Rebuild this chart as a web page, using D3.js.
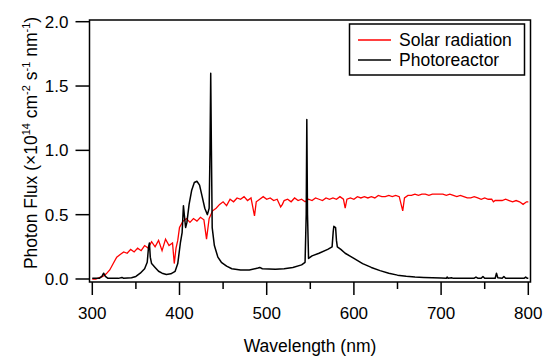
<!DOCTYPE html>
<html>
<head>
<meta charset="utf-8">
<script src="https://cdn.jsdelivr.net/npm/d3@7"></script>
<style>
  body { margin: 0; background: #fff; }
  text { font-family: "Liberation Sans", Arial, sans-serif; fill: #000; }
</style>
</head>
<body>
<div id="chart"></div>
<script>
// Solar radiation spectrum (nm, ×10^14 photons cm^-2 s^-1 nm^-1)
var solarWl = [300,304,308,312,316,320,324,328,332,336,340,344,348,352,356,360,364,368,372,376,380,384,388,392,394,396,398,400,404,408,412,416,420,424,428,431,434,438,442,446,450,454,458,462,466,470,474,478,482,486,488,492,496,500,504,508,512,516,518,520,524,528,532,536,540,544,548,552,556,560,564,568,572,576,580,584,588,590,592,596,600,604,608,612,616,620,624,628,632,636,640,644,648,652,656,658,662,666,670,674,678,682,686,690,694,698,702,706,710,714,718,722,726,730,734,738,742,746,750,754,758,760,762,766,770,774,778,782,786,790,794,798,800];
var solarVal = [0.00,0.00,0.01,0.02,0.04,0.07,0.12,0.17,0.19,0.21,0.20,0.23,0.21,0.24,0.22,0.26,0.24,0.29,0.25,0.30,0.22,0.31,0.26,0.28,0.12,0.24,0.30,0.40,0.45,0.47,0.44,0.47,0.45,0.48,0.46,0.31,0.47,0.53,0.55,0.58,0.60,0.57,0.62,0.60,0.63,0.62,0.64,0.61,0.63,0.49,0.60,0.62,0.64,0.62,0.63,0.61,0.62,0.56,0.58,0.61,0.62,0.60,0.63,0.61,0.62,0.60,0.62,0.61,0.63,0.62,0.61,0.63,0.62,0.63,0.62,0.64,0.62,0.55,0.62,0.63,0.62,0.64,0.63,0.64,0.63,0.64,0.63,0.65,0.64,0.64,0.65,0.64,0.65,0.64,0.53,0.63,0.65,0.65,0.66,0.65,0.66,0.66,0.65,0.66,0.66,0.66,0.66,0.65,0.66,0.65,0.64,0.65,0.64,0.63,0.63,0.64,0.63,0.62,0.63,0.62,0.62,0.60,0.61,0.61,0.61,0.62,0.61,0.60,0.61,0.60,0.58,0.60,0.60];

// Photoreactor lamp spectrum
var lampWl = [300,308,311,313,315,318,330,334,336,345,350,355,360,363,364.5,365.5,366.5,368,372,376,380,385,390,395,398,401,403,404.5,405.5,407,408.5,411,414,417,420,423,426,429,432,434,435,435.8,436.6,437.5,440,444,448,454,460,470,480,490,492,495,510,520,530,540,544,545.3,546,546.8,548,552,560,570,575,576.3,577,579,580,581,585,590,600,610,620,630,640,650,660,670,680,690,700,706,707,708,712,714,725,738,740,742,746,748,750,762,763.5,765,770,772,774,795,797,799,800];
var lampVal = [0.005,0.005,0.02,0.045,0.02,0.005,0.005,0.012,0.005,0.01,0.02,0.045,0.08,0.13,0.25,0.28,0.17,0.12,0.09,0.06,0.045,0.035,0.04,0.06,0.12,0.28,0.36,0.57,0.50,0.40,0.44,0.58,0.69,0.75,0.76,0.73,0.64,0.55,0.50,0.55,1.0,1.60,1.0,0.40,0.26,0.17,0.13,0.10,0.08,0.07,0.07,0.085,0.09,0.08,0.075,0.08,0.09,0.11,0.13,0.5,1.24,0.5,0.16,0.18,0.20,0.23,0.25,0.37,0.41,0.40,0.30,0.25,0.23,0.20,0.16,0.12,0.09,0.065,0.045,0.03,0.022,0.016,0.012,0.009,0.007,0.006,0.015,0.006,0.01,0.005,0.005,0.006,0.015,0.006,0.006,0.02,0.006,0.006,0.045,0.01,0.006,0.02,0.006,0.005,0.015,0.005,0.005];

var xTicks = [300,400,500,600,700,800];
var xMinor = [350,450,550,650,750];
var yTicks = [0.0,0.5,1.0,1.5,2.0];
var seriesNames = ["Solar radiation","Photoreactor"];
var seriesColors = ["#ff0000","#000000"];

var width = 547, height = 358;
var svg = d3.select("#chart").append("svg")
    .attr("width", width)
    .attr("height", height);

// scales (frame is slightly larger than the data range)
var x = d3.scaleLinear().domain([300, 800]).range([92.3, 528.3]);
var y = d3.scaleLinear().domain([0, 2]).range([279, 21.7]);
var frame = {left: 89.5, right: 530.5, top: 20, bottom: 282};

// frame
svg.append("rect")
    .attr("x", frame.left).attr("y", frame.top)
    .attr("width", frame.right - frame.left)
    .attr("height", frame.bottom - frame.top)
    .attr("fill", "none").attr("stroke", "#000").attr("stroke-width", 1.5);

// x axis
var xAxis = svg.append("g").attr("transform", "translate(0," + frame.bottom + ")");
xAxis.selectAll("line.major").data(xTicks).enter().append("line")
    .attr("x1", x).attr("x2", x).attr("y1", 0).attr("y2", 13)
    .attr("stroke", "#000").attr("stroke-width", 1.5);
xAxis.selectAll("line.minor").data(xMinor).enter().append("line")
    .attr("x1", x).attr("x2", x).attr("y1", 0).attr("y2", 7)
    .attr("stroke", "#000").attr("stroke-width", 1.5);
xAxis.selectAll("text").data(xTicks).enter().append("text")
    .attr("x", x).attr("y", 37)
    .attr("text-anchor", "middle")
    .attr("font-size", 17)
    .text(function(d) { return d; });

// y axis
var yAxis = svg.append("g").attr("transform", "translate(" + frame.left + ",0)");
yAxis.selectAll("line").data(yTicks).enter().append("line")
    .attr("x1", -14).attr("x2", 0).attr("y1", y).attr("y2", y)
    .attr("stroke", "#000").attr("stroke-width", 1.5);
yAxis.selectAll("text").data(yTicks).enter().append("text")
    .attr("x", -21).attr("y", function(d) { return y(d) + 6; })
    .attr("text-anchor", "end")
    .attr("font-size", 17)
    .text(function(d) { return d.toFixed(1); });

// axis titles
svg.append("text")
    .attr("x", 310).attr("y", 352)
    .attr("text-anchor", "middle")
    .attr("font-size", 17.5)
    .text("Wavelength (nm)");

var yl = svg.append("text")
    .attr("transform", "translate(37,143) rotate(-90)")
    .attr("text-anchor", "middle")
    .attr("font-size", 17.5);
yl.append("tspan").text("Photon Flux (\u00d710");
yl.append("tspan").attr("dy", -7).attr("font-size", 11).text("14");
yl.append("tspan").attr("dy", 7).text(" cm");
yl.append("tspan").attr("dy", -7).attr("font-size", 11).text("-2");
yl.append("tspan").attr("dy", 7).text(" s");
yl.append("tspan").attr("dy", -7).attr("font-size", 11).text("-1");
yl.append("tspan").attr("dy", 7).text(" nm");
yl.append("tspan").attr("dy", -7).attr("font-size", 11).text("-1");
yl.append("tspan").attr("dy", 7).text(")");

// lines
var line = d3.line()
    .x(function(d) { return x(d[0]); })
    .y(function(d) { return y(d[1]); });

var solar = d3.zip(solarWl, solarVal);
var lamp = d3.zip(lampWl, lampVal);

svg.append("path").datum(solar)
    .attr("d", line)
    .attr("fill", "none").attr("stroke", seriesColors[0]).attr("stroke-width", 1.3);
svg.append("path").datum(lamp)
    .attr("d", line)
    .attr("fill", "none").attr("stroke", seriesColors[1]).attr("stroke-width", 1.5)
    .attr("stroke-linejoin", "round");

// legend
var legend = svg.append("g");
legend.append("rect")
    .attr("x", 349.5).attr("y", 24)
    .attr("width", 175).attr("height", 51)
    .attr("fill", "#fff").attr("stroke", "#000").attr("stroke-width", 1.5);
seriesNames.forEach(function(name, i) {
    var ly = 40 + i * 20;
    legend.append("line")
        .attr("x1", 358).attr("x2", 391).attr("y1", ly).attr("y2", ly)
        .attr("stroke", seriesColors[i]).attr("stroke-width", 1.5);
    legend.append("text")
        .attr("x", 399).attr("y", ly + 6)
        .attr("font-size", 17.5)
        .text(name);
});
</script>
</body>
</html>
